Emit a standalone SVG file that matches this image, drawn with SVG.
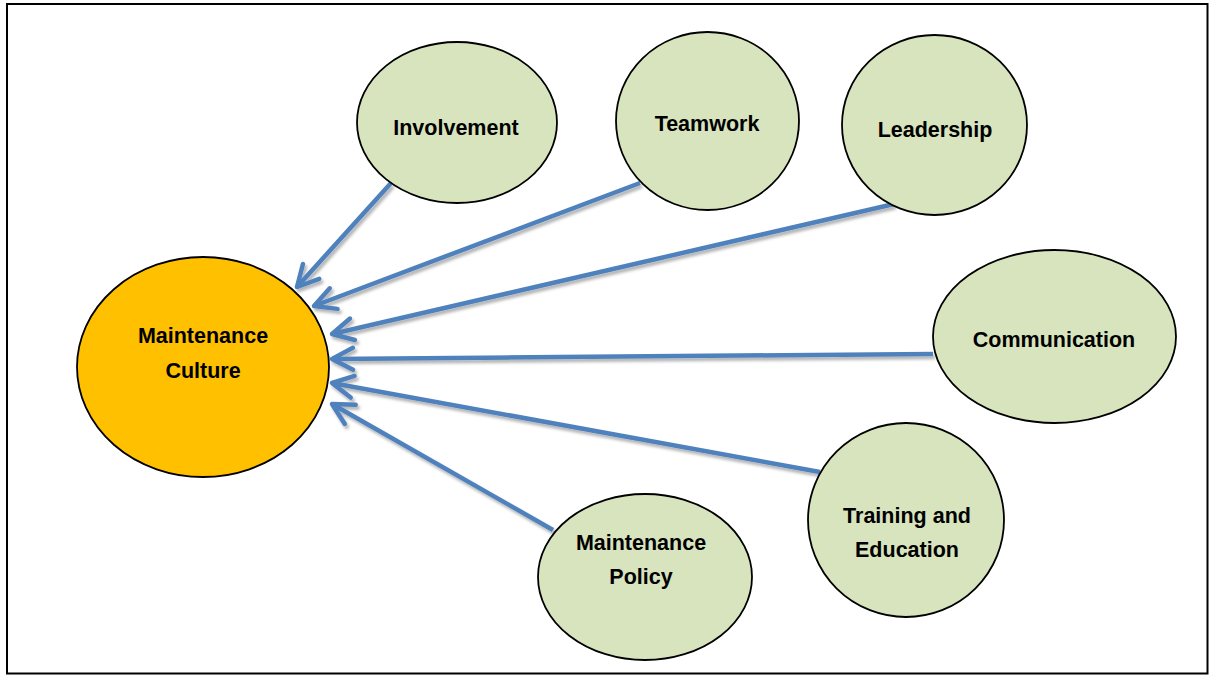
<svg xmlns="http://www.w3.org/2000/svg" width="1215" height="676" viewBox="0 0 1215 676">
  <style>
    .frame { fill: #ffffff; stroke: #000000; stroke-width: 2; }
    .node { fill: #D7E4BD; stroke: #000000; stroke-width: 1.8; }
    .hub { fill: #FFC000; stroke: #000000; stroke-width: 1.8; }
    .label { font-family: "Liberation Sans", Arial, sans-serif; font-weight: bold; font-size: 21.5px; fill: #000000; text-anchor: middle; }
    .link { fill: none; stroke: #4F81BD; stroke-width: 4.5; stroke-linecap: butt; marker-end: url(#chevron); }
  </style>
  <defs>
    <marker id="chevron" markerUnits="userSpaceOnUse" viewBox="-30 -18 36 36" markerWidth="36" markerHeight="36" refX="0" refY="0" orient="auto" overflow="visible">
      <path d="M -21,-11 L 0,0 L -21,11" fill="none" stroke="#4F81BD" stroke-width="4.5" stroke-linecap="round" stroke-linejoin="round"/>
    </marker>
    <filter id="shade" x="-10%" y="-10%" width="120%" height="130%">
      <feDropShadow dx="2" dy="3" stdDeviation="1.5" flood-color="#000000" flood-opacity="0.3"/>
    </filter>
  </defs>

  <rect class="frame" x="7" y="4" width="1200.5" height="669.5"/>

  <!-- connectors: every factor points to the central culture node -->
  <g id="connectors" filter="url(#shade)">
    <line class="link" x1="391" y1="183" x2="297" y2="287"/>
    <line class="link" x1="640" y1="183" x2="314" y2="306"/>
    <line class="link" x1="894" y1="204" x2="332" y2="334"/>
    <line class="link" x1="933" y1="354" x2="332" y2="359"/>
    <line class="link" x1="820" y1="472" x2="332" y2="383"/>
    <line class="link" x1="553" y1="530" x2="332" y2="404"/>
  </g>

  <g id="maintenance-culture">
    <ellipse class="hub" cx="203" cy="367" rx="126" ry="110"/>
    <text class="label" x="203" y="343">Maintenance</text>
    <text class="label" x="203" y="378">Culture</text>
  </g>

  <g id="involvement">
    <ellipse class="node" cx="457" cy="122.5" rx="100" ry="80.5"/>
    <text class="label" x="456" y="135">Involvement</text>
  </g>

  <g id="teamwork">
    <ellipse class="node" cx="707.5" cy="121" rx="91.5" ry="89"/>
    <text class="label" x="707" y="131">Teamwork</text>
  </g>

  <g id="leadership">
    <ellipse class="node" cx="934.5" cy="125" rx="92.5" ry="90"/>
    <text class="label" x="935" y="137">Leadership</text>
  </g>

  <g id="communication">
    <ellipse class="node" cx="1054.5" cy="336.5" rx="121.5" ry="86.5"/>
    <text class="label" x="1054" y="347">Communication</text>
  </g>

  <g id="training-education">
    <ellipse class="node" cx="906" cy="520" rx="98" ry="97"/>
    <text class="label" x="907" y="523">Training and</text>
    <text class="label" x="907" y="557">Education</text>
  </g>

  <g id="maintenance-policy">
    <ellipse class="node" cx="645" cy="577" rx="107" ry="83"/>
    <text class="label" x="641" y="550">Maintenance</text>
    <text class="label" x="641" y="584">Policy</text>
  </g>
</svg>
